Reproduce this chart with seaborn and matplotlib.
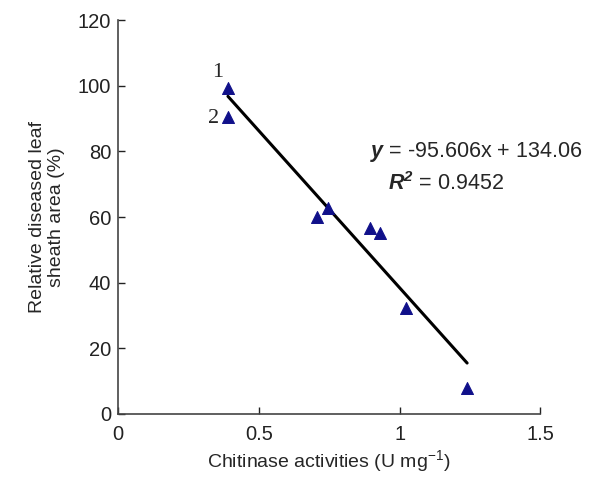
import numpy as np
import pandas as pd
import seaborn as sns
import matplotlib.pyplot as plt

# Data
chitinase = [0.39, 0.39, 0.707, 0.747, 0.896, 0.929, 1.024, 1.24]
diseased = [99.2, 90.4, 60.0, 62.7, 56.6, 55.1, 32.3, 7.9]
slope = -95.606
intercept = 134.06
r2 = 0.9452
x_ticks = [0, 0.5, 1, 1.5]
y_ticks = [0, 20, 40, 60, 80, 100, 120]

sns.set_style("ticks")
plt.rcParams['font.family'] = ['Liberation Sans', 'DejaVu Sans']
plt.rcParams['mathtext.fontset'] = 'custom'
plt.rcParams['mathtext.rm'] = 'Liberation Sans'
plt.rcParams['mathtext.it'] = 'Liberation Sans:italic'
plt.rcParams['mathtext.bf'] = 'Liberation Sans:bold'
plt.rcParams['mathtext.bfit'] = 'Liberation Sans:italic:bold'

df = pd.DataFrame({"x": chitinase, "y": diseased})

fig = plt.figure(figsize=(6.03, 4.78), dpi=100)
ax = fig.add_axes([0.196, 0.134, 0.70, 0.824])

# Fitted line from stated equation
fit_x = np.array([min(chitinase), max(chitinase)])
fit_df = pd.DataFrame({"x": fit_x, "y": slope * fit_x + intercept})
sns.lineplot(data=fit_df, x="x", y="y", color="black", linewidth=2.2, ax=ax)

sns.scatterplot(data=df, x="x", y="y", marker="^", color="#10108a",
                s=75, edgecolor="#10108a", ax=ax, zorder=3)

ax.set_xlim(0, 1.5)
ax.set_ylim(0, 120)
ax.set_xticks(x_ticks)
ax.set_xticklabels(["0", "0.5", "1", "1.5"])
ax.set_yticks(y_ticks)
ax.tick_params(direction="in", length=5, width=1, labelsize=14.5, colors="#222222")
ax.tick_params(axis="x", pad=8)
ax.tick_params(axis="y", pad=5)
for s in ["top", "right"]:
    ax.spines[s].set_visible(False)
for s in ["left", "bottom"]:
    ax.spines[s].set_color("#444444")
    ax.spines[s].set_linewidth(1.2)

ax.set_xlabel("Chitinase activities (U mg$^{\\mathrm{-1}}$)", fontsize=14, labelpad=3)
ax.set_ylabel("Relative diseased leaf\nsheath area (%)", fontsize=14, labelpad=9)

# Point labels
ax.text(0.355, 104, "1", family="Liberation Serif", fontsize=16, ha="center", va="center")
ax.text(0.338, 90, "2", family="Liberation Serif", fontsize=16, ha="center", va="center")

# Equation
ax.text(0.896, 79.8, r"$\mathbfit{y}$ = -95.606x + 134.06", fontsize=15.5, va="center", ha="left")
ax.text(0.96, 70.3, r"$\mathbfit{R}^{\mathbfit{2}}$ = " + str(r2), fontsize=15.5, va="center", ha="left")

fig.savefig("out.png", dpi=100)
